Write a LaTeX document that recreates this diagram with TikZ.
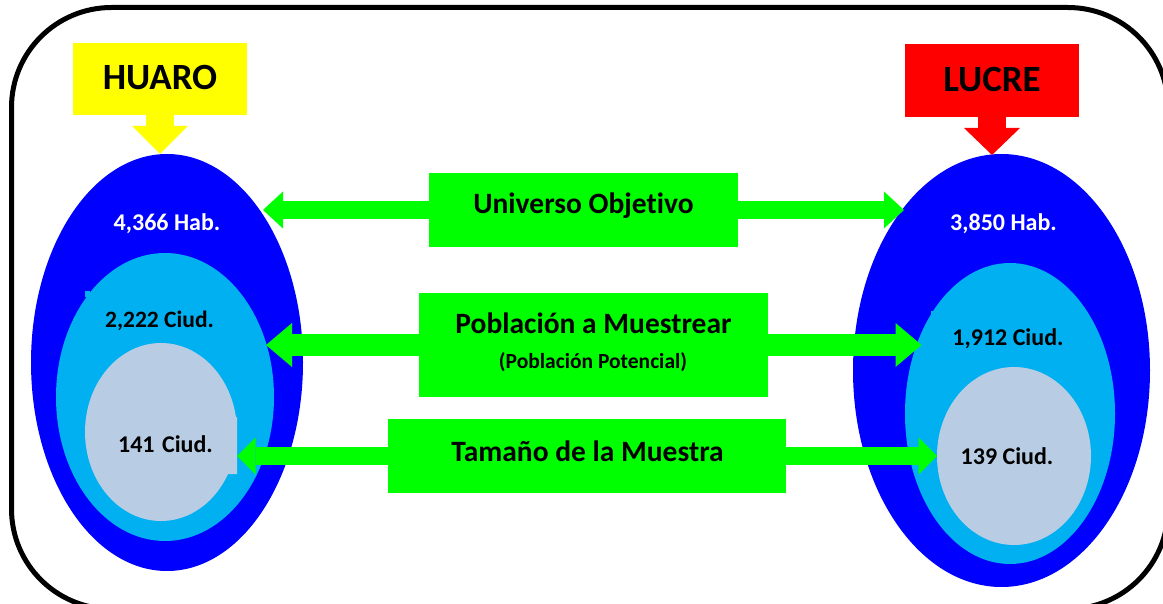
\documentclass[tikz,border=0pt]{standalone}
\usepackage{fontspec}
\setmainfont[Ligatures=NoCommon]{Carlito}
\usetikzlibrary{shapes.geometric,arrows.meta}
\definecolor{bluedeep}{HTML}{0000FF}
\definecolor{bluesky}{HTML}{00B0F0}
\definecolor{bluepale}{HTML}{B8CCE4}
\definecolor{greenlime}{HTML}{00FF00}
\definecolor{headyellow}{HTML}{FFFF00}
\definecolor{headred}{HTML}{FF0000}
\tikzset{
  x=1pt,y=-1pt,
  oval/.style={ellipse,inner sep=0pt,outer sep=0pt,draw=none},
  box/.style={rectangle,inner sep=0pt,outer sep=0pt,draw=none},
  txt/.style={inner sep=0pt,outer sep=0pt,anchor=base,font=\bfseries\fontsize{#1}{#1}\selectfont},
  txt/.default=22,
  linkarrow/.style n args={3}{draw=#1,line width=#2,-{Triangle[length=#3,width=#2*2,fill=#1,line width=0pt]}},
}
\begin{document}
\begin{tikzpicture}
\useasboundingbox (0,0) rectangle (1163,604);
\clip (0,0) rectangle (1163,604);
\fill[white] (0,0) rectangle (1163,604);
\draw[line width=5pt,rounded corners=100pt] (11.5,7.5) rectangle (1168,609);
% left ovals
\node[oval,fill=bluedeep,minimum width=272pt,minimum height=417pt] (hOuter) at (167,362.5) {};
\node[oval,fill=bluesky,minimum width=218pt,minimum height=288pt] (hMid) at (165,397) {};
\fill[bluesky] (84.5,291.5) rectangle (90,297);
\node[oval,fill=bluepale,minimum width=152pt,minimum height=178pt] (hIn) at (161,432) {};
\fill[bluepale] (227,474) -- (237,474) -- (237,417) -- (230,417) -- cycle;
% right ovals
\node[oval,fill=bluedeep,minimum width=297pt,minimum height=433pt] (lOuter) at (1001.5,370.5) {};
\node[oval,fill=bluesky,minimum width=210pt,minimum height=301pt] (lMid) at (1010,413.5) {};
\fill[bluesky] (931,311.5) rectangle (936,317);
\node[oval,fill=bluepale,minimum width=154pt,minimum height=178pt] (lIn) at (1014,456) {};
% headers
\node[box,fill=headyellow,minimum width=174pt,minimum height=72pt] (huaro) at (160,79) {};
\node[box,fill=headred,minimum width=174pt,minimum height=72.5pt] (lucre) at (992,80.75) {};
\coordinate (huaroTip) at (160,154);
\coordinate (lucreTip) at (992,155);
\draw[linkarrow={headyellow}{28pt}{28pt}] (huaro.south) -- (huaroTip);
\draw[linkarrow={headred}{28pt}{27pt}] (lucre.south) -- (lucreTip);
% centre boxes
\node[box,fill=greenlime,minimum width=309pt,minimum height=74pt] (univ) at (583.5,210) {};
\node[box,fill=greenlime,minimum width=349pt,minimum height=104pt] (pob) at (593.5,345) {};
\node[box,fill=greenlime,minimum width=398pt,minimum height=74pt] (tam) at (587,456) {};
\coordinate (uL) at (263,210);
\coordinate (uR) at (904,210);
\coordinate (pL) at (266,345);
\coordinate (pR) at (921.5,345);
\coordinate (tL) at (237,456);
\coordinate (tR) at (937,456);
\draw[linkarrow={greenlime}{18.5pt}{20pt}] (univ.west) -- (uL);
\draw[linkarrow={greenlime}{18.5pt}{20pt}] (univ.east) -- (uR);
\draw[linkarrow={greenlime}{22pt}{26pt}] (pob.west) -- (pL);
\draw[linkarrow={greenlime}{22pt}{26pt}] (pob.east) -- (pR);
\draw[linkarrow={greenlime}{18.5pt}{18.5pt}] (tam.west) -- (tL);
\draw[linkarrow={greenlime}{18.5pt}{18.5pt}] (tam.east) -- (tR);
% texts
\node[txt=37] (tHuaro) at (160,90) {HUARO};
\node[txt=37] (tLucre) at (992,91.5) {LUCRE};
\node[txt=24,white] (t1) at (167,231) {4,366 Hab.};
\node[txt=24,white] (t2) at (1003.5,231) {3,850 Hab.};
\node[txt=23.5] (t3) at (159.5,327.5) {2,222 Ciud.};
\node[txt=24] (t4) at (1008,345.5) {1,912 Ciud.};
\node[txt=24] (t5) at (165.5,452) {141\hspace{2pt} Ciud.};
\node[txt=24] (t6) at (1007,464) {139 Ciud.};
\node[txt=29.5] (t7) at (583.5,214) {Universo Objetivo};
\node[txt=29.5] (t8) at (593.5,334) {Población a Muestrear};
\node[txt=21.5] (t9) at (593,368) {(Población Potencial)};
\node[txt=29.5] (t10) at (587.5,461) {Tamaño de la Muestra};
\end{tikzpicture}
\end{document}
